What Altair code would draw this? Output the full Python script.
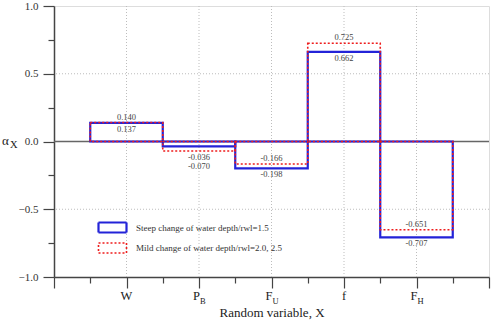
import altair as alt
import pandas as pd

# ---- data ----
categories = ["W", "P", "F", "f", "F"]
subscripts = ["", "B", "U", "", "H"]
steep = [0.137, -0.036, -0.198, 0.662, -0.707]
mild = [0.140, -0.070, -0.166, 0.725, -0.651]
series_names = ["Steep change of water depth/rwl=1.5",
                "Mild change of water depth/rwl=2.0, 2.5"]
y_major = [-1.0, -0.5, 0.0, 0.5, 1.0]
y_minor = [-0.75, -0.25, 0.25, 0.75]
y_grid = [-0.5, 0.5]

FONT = "Liberation Serif"
BLUE = "#2323d8"
RED = "#ee1c1c"
AX = "#444444"
DASH = [2, 2]

pos = list(range(1, len(categories) + 1))
x_major = list(range(0, len(categories) + 2))
x_minor = [p - 0.5 for p in pos] + [pos[-1] + 0.5]

rows = []
for name, vals in zip(series_names, [steep, mild]):
    for p, v in zip(pos, vals):
        rows.append({"series": name, "x0": p - 0.5, "x1": p + 0.5, "value": v, "base": 0.0})
bars = pd.DataFrame(rows)

lab = []
for p, a, b in zip(pos, steep, mild):
    hi, lo = max(a, b), min(a, b)
    if hi < 0 and hi > -0.06:
        lab.append({"pos": p, "anchor": lo, "text": f"{hi:.3f}", "slot": "below"})
        lab.append({"pos": p, "anchor": lo, "text": f"{lo:.3f}", "slot": "below2"})
    else:
        lab.append({"pos": p, "anchor": hi, "text": f"{hi:.3f}", "slot": "above"})
        lab.append({"pos": p, "anchor": lo, "text": f"{lo:.3f}", "slot": "below"})
labels = pd.DataFrame(lab)

cats = pd.DataFrame({"pos": pos, "cat": categories, "sub": subscripts})
cats["has_sub"] = cats["sub"] != ""
ygrid_df = pd.DataFrame({"g": y_grid})
zero_df = pd.DataFrame({"z": [0.0]})

xscale = alt.Scale(domain=[0, len(categories) + 1], nice=False, zero=False)
yscale = alt.Scale(domain=[-1, 1], nice=False)

dash_expr = ("datum.value === '" + series_names[0] + "' ? [1, 0] : ["
             + ", ".join(str(d) for d in DASH) + "]")
legend_props = dict(
    title=None, orient="none", legendX=47, legendY=210, padding=0,
    symbolType="M-1.4,-0.5H1.4V0.5H-1.4Z", symbolSize=400, symbolFillColor="transparent",
    symbolDash=alt.ExprRef(expr=dash_expr),
    labelFont=FONT, labelFontSize=9, labelColor="#333333", labelOffset=12, rowPadding=-4,
)

# vertical dotted grid at categories + minor x ticks
grid_v = alt.Chart(cats).mark_rule(color="#bdbdbd", strokeDash=[1, 2], strokeWidth=1).encode(
    x=alt.X("pos:Q", scale=xscale,
            axis=alt.Axis(orient="bottom", values=x_minor, tickSize=6, labels=False, domain=False,
                          grid=False, title=None, tickColor=AX, tickWidth=1.2))
)
# horizontal dotted grid + minor y ticks
grid_h = alt.Chart(ygrid_df).mark_rule(color="#bdbdbd", strokeDash=[1, 2], strokeWidth=1).encode(
    y=alt.Y("g:Q", scale=yscale,
            axis=alt.Axis(orient="left", values=y_minor, tickSize=6, labels=False, domain=False,
                          grid=False, title=None, tickColor=AX, tickWidth=1.2))
)
zero = alt.Chart(zero_df).mark_rule(color="#666666", strokeWidth=1.6).encode(
    y=alt.Y("z:Q", scale=yscale, axis=None)
)

rects_steep = alt.Chart(bars).transform_filter(alt.datum.series == series_names[0]).mark_rect(
    filled=False).encode(
    x=alt.X("x0:Q", scale=xscale,
            axis=alt.Axis(orient="bottom", values=x_major, tickSize=11, labels=False, grid=False,
                          title="Random variable, X", titleFont=FONT, titleFontSize=13,
                          titleFontWeight="normal", titleColor="#222222", titlePadding=18,
                          domainColor=AX, domainWidth=1.5, tickColor=AX, tickWidth=1.2)),
    x2="x1:Q",
    y=alt.Y("value:Q", scale=yscale,
            axis=alt.Axis(orient="left", values=y_major, format=".1f", tickSize=11, grid=False,
                          title=None, labelFont=FONT, labelFontSize=11, labelColor="#333333",
                          labelPadding=5, domainColor=AX, domainWidth=1.5, tickColor=AX,
                          tickWidth=1.2)),
    y2="base:Q",
    stroke=alt.Stroke("series:N", scale=alt.Scale(domain=series_names, range=[BLUE, RED]),
                      legend=alt.Legend(**legend_props)),
    strokeWidth=alt.StrokeWidth("series:N", scale=alt.Scale(domain=series_names, range=[2.2, 1.6]),
                                legend=alt.Legend(**legend_props)),
)

rects_mild = alt.Chart(bars).transform_filter(alt.datum.series == series_names[1]).mark_rect(
    filled=False, stroke=RED, strokeDash=DASH, strokeWidth=1.6).encode(
    x=alt.X("x0:Q", scale=xscale, axis=None),
    x2="x1:Q",
    y=alt.Y("value:Q", scale=yscale, axis=None),
    y2="base:Q",
)

def value_text(slot, baseline, dy):
    return alt.Chart(labels).transform_filter(alt.datum.slot == slot).mark_text(
        font=FONT, fontSize=8.5, color="#444444", baseline=baseline, dy=dy
    ).encode(
        x=alt.X("pos:Q", scale=xscale, axis=None),
        y=alt.Y("anchor:Q", scale=yscale, axis=None),
        text="text:N",
    )

t_above = value_text("above", "bottom", -1)
t_below = value_text("below", "top", 2)
t_below2 = value_text("below2", "top", 11)

cat_plain = alt.Chart(cats).transform_filter("!datum.has_sub").mark_text(
    font=FONT, fontSize=12.5, color="#222222", baseline="middle"
).encode(x=alt.X("pos:Q", scale=xscale, axis=None), y=alt.value(290), text="cat:N")
cat_main = alt.Chart(cats).transform_filter("datum.has_sub").mark_text(
    font=FONT, fontSize=12.5, color="#222222", baseline="middle", align="right", dx=1
).encode(x=alt.X("pos:Q", scale=xscale, axis=None), y=alt.value(290), text="cat:N")
cat_sub = alt.Chart(cats).transform_filter("datum.has_sub").mark_text(
    font=FONT, fontSize=8.5, color="#222222", baseline="middle", align="left", dx=1
).encode(x=alt.X("pos:Q", scale=xscale, axis=None), y=alt.value(295), text="sub:N")

ytitle = alt.Chart(zero_df).mark_text(font=FONT, fontSize=13, color="#222222", align="left",
                                      baseline="middle").encode(
    x=alt.value(-52), y=alt.value(135), text=alt.value("α"))
ytitle_sub = alt.Chart(zero_df).mark_text(font=FONT, fontSize=10.5, color="#222222", align="left",
                                          baseline="middle").encode(
    x=alt.value(-44), y=alt.value(139), text=alt.value("X"))

chart = alt.layer(
    grid_v, grid_h, zero, rects_steep, rects_mild, t_above, t_below, t_below2,
    cat_plain, cat_main, cat_sub, ytitle, ytitle_sub
).resolve_axis(x="independent", y="independent").properties(
    width=435, height=271,
    padding={"left": 54, "top": 6, "right": 5, "bottom": 45},
    autosize=alt.AutoSizeParams(type="none"),
).configure_view(stroke=AX, strokeWidth=1.2).configure(background="white")

chart.save("out.html", embed_options={"renderer": "svg", "actions": False})
